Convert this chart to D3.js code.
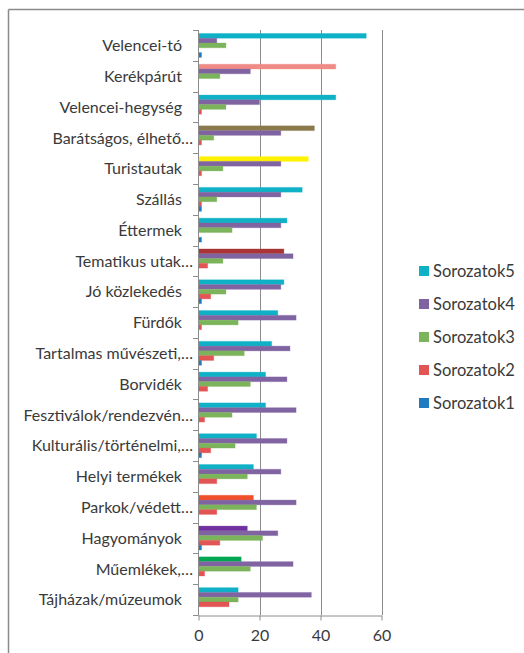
<!DOCTYPE html>
<html>
<head>
<meta charset="utf-8">
<script src="https://cdn.jsdelivr.net/npm/d3@7"></script>
<style>
  html, body { margin: 0; padding: 0; background: #fff; }
  svg { display: block; }
  text { font-family: Lato, "Open Sans", sans-serif; fill: #3a3a3a; }
</style>
</head>
<body>
<svg id="chart" width="524" height="653"></svg>
<script>
// Categories, top to bottom
const categories = [
  "Velencei-tó", "Kerékpárút", "Velencei-hegység", "Barátságos, élhető…",
  "Turistautak", "Szállás", "Éttermek", "Tematikus utak…", "Jó közlekedés",
  "Fürdők", "Tartalmas művészeti,…", "Borvidék", "Fesztiválok/rendezvén…",
  "Kulturális/történelmi,…", "Helyi termékek", "Parkok/védett…",
  "Hagyományok", "Műemlékek,…", "Tájházak/múzeumok"
];

// Series values, one entry per category
const sorozatok5 = [55, 45, 45, 38, 36, 34, 29, 28, 28, 26, 24, 22, 22, 19, 18, 18, 16, 14, 13];
const sorozatok4 = [6, 17, 20, 27, 27, 27, 27, 31, 27, 32, 30, 29, 32, 29, 27, 32, 26, 31, 37];
const sorozatok3 = [9, 7, 9, 5, 8, 6, 11, 8, 9, 13, 15, 17, 11, 12, 16, 19, 21, 17, 13];
const sorozatok2 = [0, 0, 1, 1, 1, 1, 0, 3, 4, 1, 5, 3, 2, 4, 6, 6, 7, 2, 10];
const sorozatok1 = [1, 0, 0, 0, 0, 1, 1, 0, 1, 0, 1, 0, 0, 1, 0, 0, 1, 0, 0];

const seriesNames = ["Sorozatok5", "Sorozatok4", "Sorozatok3", "Sorozatok2", "Sorozatok1"];
const seriesValues = [sorozatok5, sorozatok4, sorozatok3, sorozatok2, sorozatok1];
const seriesColors = ["#0FB1C7", "#8064A2", "#7BB45A", "#E35454", "#1F7BBF"];

// Individually recoloured points of Sorozatok5
const pointColors5 = {
  "Kerékpárút": "#F08A86",
  "Barátságos, élhető…": "#8A7A4B",
  "Turistautak": "#FFF200",
  "Tematikus utak…": "#A83434",
  "Parkok/védett…": "#F0502A",
  "Hagyományok": "#7030A0",
  "Műemlékek,…": "#00A651"
};

const xTicks = [0, 20, 40, 60];

const svg = d3.select("#chart");
const grid = "#8C8C8C";

// outer frame (top and left edges)
svg.append("line").attr("x1", 8.5).attr("x2", 524).attr("y1", 9.5).attr("y2", 9.5)
  .attr("stroke", "#8A8A8A").attr("stroke-width", 1.5);
svg.append("line").attr("x1", 8.5).attr("x2", 8.5).attr("y1", 9.5).attr("y2", 653)
  .attr("stroke", "#8A8A8A").attr("stroke-width", 1.5);

const x = d3.scaleLinear().domain([0, 60]).range([198.5, 381.5]);
const y = d3.scaleBand().domain(categories).range([30, 615]).padding(0);
const inner = d3.scaleBand().domain(seriesNames).range([0, y.bandwidth()])
  .paddingInner(0).paddingOuter(0.72);

// vertical gridlines
svg.append("g").selectAll("line").data(xTicks.slice(1)).join("line")
  .attr("x1", d => Math.round(x(d)) + 0.5).attr("x2", d => Math.round(x(d)) + 0.5)
  .attr("y1", 30).attr("y2", 615)
  .attr("stroke", grid).attr("stroke-width", 1);

// bars
const groups = svg.append("g").selectAll("g").data(categories).join("g")
  .attr("transform", d => `translate(0,${y(d)})`);

seriesNames.forEach((name, si) => {
  groups.append("rect")
    .attr("x", x(0))
    .attr("y", inner(name))
    .attr("height", inner.bandwidth())
    .attr("width", (d, i) => x(seriesValues[si][i]) - x(0))
    .attr("fill", (d, i) => si === 0 && pointColors5[d] ? pointColors5[d] : seriesColors[si])
    .attr("stroke", (d, i) => si === 0 && pointColors5[d] ? pointColors5[d] : seriesColors[si])
    .attr("stroke-opacity", 0.3)
    .attr("stroke-width", 1);
});

// bottom value axis
const xAxis = svg.append("g").attr("transform", "translate(0,615.5)")
  .call(d3.axisBottom(x).tickValues(xTicks).tickSize(5).tickPadding(9).tickSizeOuter(0));
xAxis.select(".domain").attr("stroke", grid);
xAxis.selectAll(".tick line").attr("stroke", grid);
xAxis.selectAll("text").attr("font-size", 16).attr("fill", "#3a3a3a")
  .style("font-family", "Lato, 'Open Sans', sans-serif");

// left category axis
const yAxisLine = svg.append("g");
yAxisLine.append("line").attr("x1", 198.5).attr("x2", 198.5).attr("y1", 30).attr("y2", 615.5)
  .attr("stroke", grid);
yAxisLine.selectAll("line.tk").data(categories.concat(["__end"])).join("line")
  .attr("class", "tk")
  .attr("x1", 193).attr("x2", 198.5)
  .attr("y1", (d, i) => Math.round(30 + i * y.step()) + 0.5)
  .attr("y2", (d, i) => Math.round(30 + i * y.step()) + 0.5)
  .attr("stroke", grid);

svg.append("g").selectAll("text").data(categories).join("text")
  .attr("x", d => d.endsWith("…") ? 193 : 182)
  .attr("y", d => y(d) + y.bandwidth() / 2)
  .attr("dy", "0.36em")
  .attr("text-anchor", "end")
  .attr("font-size", 16)
  .text(d => d);

// legend
const legend = svg.append("g").selectAll("g").data(seriesNames).join("g")
  .attr("transform", (d, i) => `translate(419,${271 + i * 33})`);
legend.append("rect").attr("x", 0).attr("y", -5).attr("width", 10).attr("height", 10)
  .attr("fill", (d, i) => seriesColors[i]);
legend.append("text").attr("x", 14).attr("y", 0).attr("dy", "0.36em")
  .attr("font-size", 16.5).text(d => d);
</script>
</body>
</html>
